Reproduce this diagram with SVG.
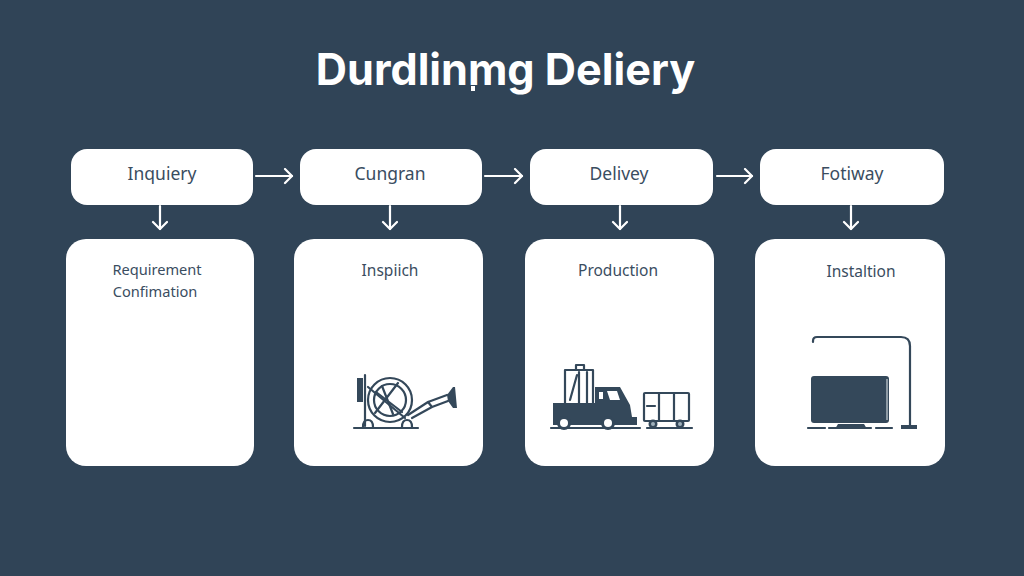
<svg xmlns="http://www.w3.org/2000/svg" width="1024" height="576" viewBox="0 0 1024 576">
<style>
.box{fill:#fff}
.t{font-family:"Noto Sans","Open Sans",sans-serif;font-size:17.5px;fill:#3a4d5f;text-anchor:middle}
.s{font-size:15.5px}
.r{font-size:14.6px}
.ar{fill:none;stroke:#fff;stroke-width:2.2;stroke-linecap:round;stroke-linejoin:round}
.ic{fill:none;stroke:#34485a;stroke-width:2.2;stroke-linecap:round;stroke-linejoin:round}
.f{fill:#34485a}
.w{fill:#fff}
</style>
<defs>
<marker id="ah" markerUnits="userSpaceOnUse" markerWidth="16" markerHeight="20" refX="10" refY="8" orient="auto">
<path d="M3 1L10 8L3 15" fill="none" stroke="#fff" stroke-width="2.2" stroke-linecap="round" stroke-linejoin="round"/>
</marker>
</defs>
<rect width="1024" height="576" fill="#304457"/>
<text id="title" x="505.5" y="85" font-family="Inter,'Liberation Sans',sans-serif" font-weight="700" font-size="43.2px" fill="#fff" text-anchor="middle">Durdlinmg Deliery</text>
<rect x="471" y="86" width="4" height="5" fill="#fff"/>

<g id="connectors">
<path class="ar" marker-end="url(#ah)" d="M256 176H292"/>
<path class="ar" marker-end="url(#ah)" d="M485 176H522"/>
<path class="ar" marker-end="url(#ah)" d="M717 176H752"/>
<path class="ar" marker-end="url(#ah)" d="M160 206V229"/>
<path class="ar" marker-end="url(#ah)" d="M390 206V229"/>
<path class="ar" marker-end="url(#ah)" d="M620 206V229"/>
<path class="ar" marker-end="url(#ah)" d="M851 206V229"/>
</g>

<g id="n1"><rect class="box" x="71" y="149" width="182" height="56" rx="16"/><text class="t" x="162" y="180">Inquiery</text></g>
<g id="n2"><rect class="box" x="300" y="149" width="182" height="56" rx="16"/><text class="t" x="390" y="180">Cungran</text></g>
<g id="n3"><rect class="box" x="530" y="149" width="183" height="56" rx="16"/><text class="t" x="619" y="180">Delivey</text></g>
<g id="n4"><rect class="box" x="760" y="149" width="184" height="56" rx="16"/><text class="t" x="852" y="180">Fotiway</text></g>

<g id="c1"><rect class="box" x="66" y="239" width="188" height="227" rx="20"/>
<text class="t r" x="157" y="275">Requirement</text><text class="t r" x="155" y="297">Confimation</text></g>

<g id="c2"><rect class="box" x="294" y="239" width="189" height="227" rx="20"/>
<text class="t s" x="390" y="276">Inspiich</text>
<g id="icon-reel">
<path class="ic" d="M354 428H418"/>
<rect class="f" x="357" y="378" width="6" height="24"/>
<path class="ic" d="M365 375V426" stroke-width="3"/>
<circle class="ic" cx="390" cy="400" r="22" stroke-width="3"/>
<circle class="ic" cx="390" cy="400" r="16"/>
<path class="ic" d="M368 387L405 418" stroke-width="3"/>
<path class="ic" d="M375 413L398 383" stroke-width="2.4"/>
<path class="ic" d="M376 392L402 412M382 386L393 414"/>
<path class="ic" d="M363 427Q363 420 368 420Q373 420 373 427M402 427Q402 420 407 420Q412 420 412 427" stroke-width="2.6"/>
<path class="ic" d="M408 415L428 402L447 395M412 418L432 407L448 401M428 402L432 407"/>
<path class="f" d="M447 395L453 387H455L457 408H453L448 401Z"/>
</g></g>

<g id="c3"><rect class="box" x="525" y="239" width="189" height="227" rx="20"/>
<text class="t s" x="618" y="276">Production</text>
<g id="icon-truck">
<path class="ic" d="M551 428H640M647 428H692"/>
<path class="ic" d="M565 403V370H593V403M570 400L577 375M579 372V403M587 372V403"/>
<rect class="ic" x="576" y="365" width="8" height="5"/>
<path class="f" d="M553 403H595V387H620L630 405L632 417H637V425H553Z"/>
<path class="w" d="M599 392H603V399H599ZM607 391H617L620 400H610Z"/>
<circle class="f" cx="564" cy="423" r="7"/><circle class="w" cx="564" cy="423" r="4"/>
<circle class="f" cx="608" cy="423" r="7"/><circle class="w" cx="608" cy="423" r="4"/>
<rect class="ic" x="644" y="393" width="45" height="28" rx="1"/>
<path class="ic" d="M659 393V421M674 393V421M647 406H655"/>
<circle class="f" cx="653" cy="424" r="4.5"/><circle cx="653" cy="424" r="2" fill="#9fb0bb"/>
<circle class="f" cx="680" cy="424" r="4.5"/><circle cx="680" cy="424" r="2" fill="#9fb0bb"/>
</g></g>

<g id="c4"><rect class="box" x="755" y="239" width="190" height="227" rx="20"/>
<text class="t s" x="861" y="277">Instaltion</text>
<g id="icon-screen">
<path class="ic" d="M813 342V341Q813 337 817 337H901Q910 337 910 346V426" stroke-width="3.4"/>
<rect class="f" x="811" y="376" width="78" height="47" rx="3"/>
<path d="M887 379V420" stroke="#e8edf0" stroke-width="1"/>
<path class="ic" d="M808 428H825M829 428H871M876 428H892M902 428H916"/>
<path class="f" d="M835 429L838 424H864L867 429Z"/>
<rect class="f" x="901" y="425" width="16" height="4"/>
</g></g>
</svg>
